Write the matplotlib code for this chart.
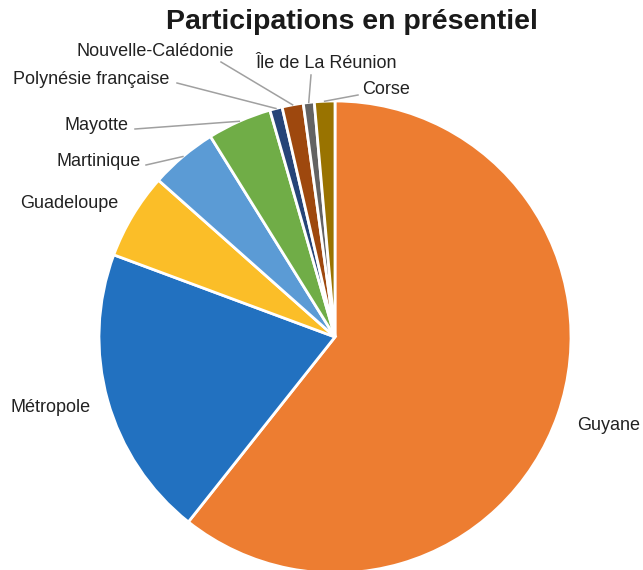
import numpy as np
import matplotlib.pyplot as plt

plt.rcParams['font.family'] = ['Liberation Sans', 'DejaVu Sans']

# données (en %)
regions = ["Guyane", "Métropole", "Guadeloupe", "Martinique", "Mayotte",
           "Polynésie française", "Nouvelle-Calédonie", "Île de La Réunion", "Corse"]
valeurs = [60.7, 20.0, 5.9, 4.6, 4.4, 0.85, 1.45, 0.75, 1.4]
couleurs = ["#ED7D31", "#2271C0", "#FBBE28", "#5B9BD5", "#70AD47",
            "#264478", "#9E480E", "#636363", "#997300"]

H = 570  # hauteur en pixels

# position des étiquettes (x, y en pixels), alignement, départ du trait
etiquettes = {
    "Guyane": ((577, 425), "left", None),
    "Métropole": ((91, 408), "right", None),
    "Guadeloupe": ((118, 203), "right", None),
    "Martinique": ((141, 162), "right", (146, 165)),
    "Mayotte": ((129, 125), "right", (135, 129)),
    "Polynésie française": ((169, 80), "right", (177, 83)),
    "Nouvelle-Calédonie": ((234, 51), "right", (221, 62)),
    "Île de La Réunion": ((255, 64), "left", (311, 75)),
    "Corse": ((362, 89), "left", (358, 95)),
}

fig = plt.figure(figsize=(6.43, 5.70), dpi=100)
ax = fig.add_axes([0, 0, 1, 1])

cx, cy, r = 335, H - 337, 236
wedges, _ = ax.pie(valeurs, colors=couleurs, startangle=90, counterclock=False,
                   center=(cx, cy), radius=r,
                   wedgeprops=dict(edgecolor="white", linewidth=2))

for w, nom in zip(wedges, regions):
    (tx, ty), ha, depart = etiquettes[nom]
    ax.text(tx, H - ty, nom, ha=ha, va="center", fontsize=13, color="#222222")
    if depart is not None:
        ang = np.deg2rad((w.theta1 + w.theta2) / 2)
        ex, ey = cx + r * np.cos(ang), cy + r * np.sin(ang)
        ax.plot([depart[0], ex], [H - depart[1], ey], color="#a0a0a0", lw=1.1)

ax.text(352, H - 22, "Participations en présentiel", ha="center", va="center",
        fontsize=20.5, fontweight="bold", color="#1a1a1a")

ax.set_xlim(0, 643)
ax.set_ylim(0, H)
ax.set_aspect("equal")
ax.axis("off")

plt.savefig("out.png", dpi=100)
